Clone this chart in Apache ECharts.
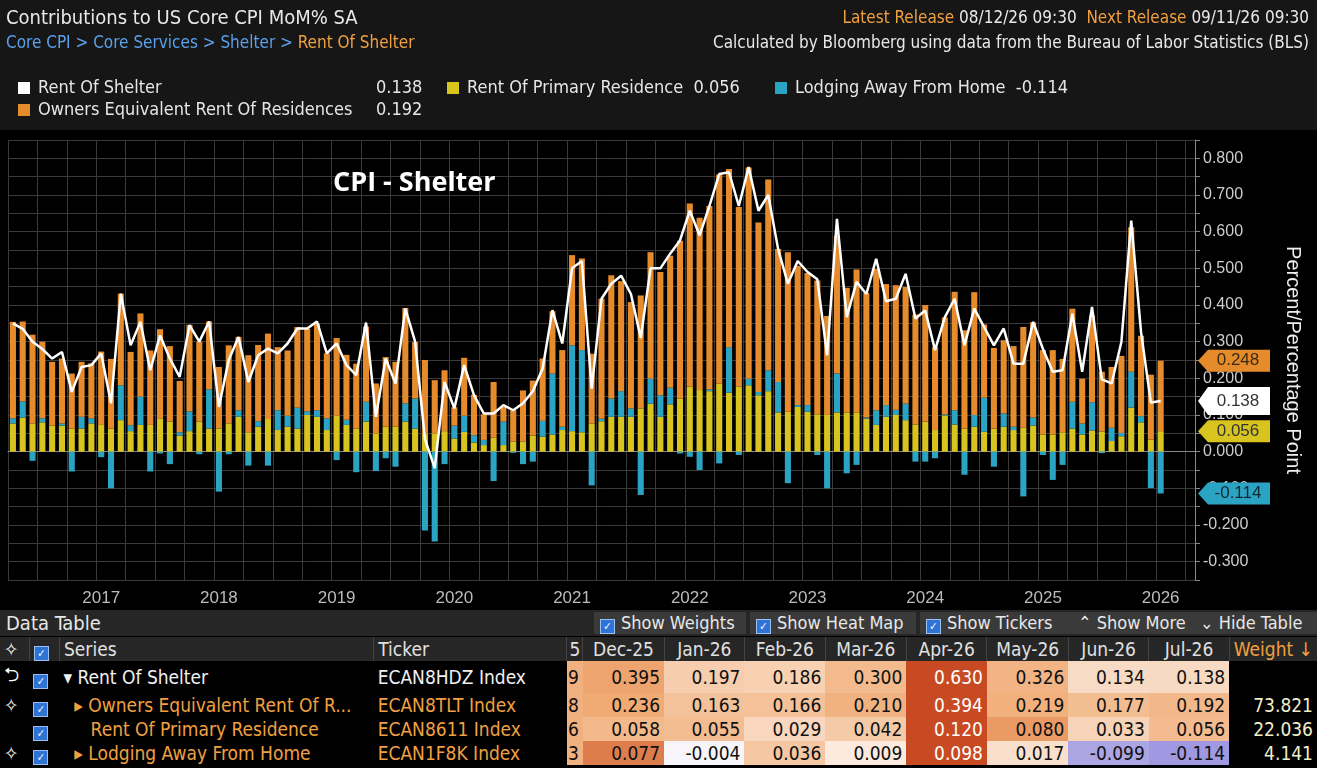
<!DOCTYPE html>
<html>
<head>
<meta charset="utf-8">
<script src="https://cdn.jsdelivr.net/npm/echarts@6/dist/echarts.min.js"></script>
<style>
  body { margin: 0; background: #000; width: 1317px; height: 768px; overflow: hidden;
    font-family: 'Liberation Sans Narrow', 'DejaVu Sans Condensed', 'Roboto', sans-serif; color: #ddd; }
  .abs { position: absolute; white-space: nowrap; }
  #top { position: absolute; left: 0; top: 0; width: 1317px; height: 130px; background: #161616; }
  #main { position: absolute; left: 0; top: 0; width: 1317px; height: 610px; }
  .sq { display: inline-block; width: 12px; height: 12px; margin-right: 8px; vertical-align: -1px; }
  .lg { font-size: 18px; color: #e6e6e6; }
  #tbl { position: absolute; left: 0; top: 610px; width: 1317px; height: 158px; background: #000; }
  .btn { position: absolute; top: 2px; height: 22px; background: #3a3a3a; color: #e8e8e8; font-size: 18px; line-height: 22px; padding-left: 6px; }
  .cb { display: inline-block; width: 13px; height: 13px; background: #2f73d6; border: 1px solid #9cc0f0; margin-right: 6px; vertical-align: -1px;
    color: #fff; font-size: 11px; line-height: 13px; text-align: center; }
  table { border-collapse: collapse; position: absolute; top: 27px; left: 0; }
  td { height: 24px; padding: 0 4px; font-size: 19px; white-space: nowrap; overflow: hidden; }
  tr.hd td { background: #262626; color: #e0e0e0; border-right: 1px solid #444; }
  td.num { text-align: right; color: #111; }
</style>
</head>
<body>
<div id="top"></div>
<div id="main"></div>
<div class="abs" style="left:6px;top:5px;font-size:20px;color:#e8e8e8">Contributions to US Core CPI MoM% SA</div>
<div class="abs" style="right:8px;top:7px;font-size:17px;color:#f0a040">Latest Release <span style="color:#e8e8e8">08/12/26 09:30</span>&nbsp; Next Release <span style="color:#e8e8e8">09/11/26 09:30</span></div>
<div class="abs" style="left:6px;top:32px;font-size:17px;color:#5aa0ea">Core CPI &gt; Core Services &gt; Shelter &gt; <span style="color:#f0a040">Rent Of Shelter</span></div>
<div class="abs" style="right:8px;top:32px;font-size:17px;color:#e8e8e8">Calculated by Bloomberg using data from the Bureau of Labor Statistics (BLS)</div>
<div class="abs lg" style="left:18px;top:76px"><span class="sq" style="background:#fff"></span>Rent Of Shelter</div>
<div class="abs lg" style="left:376px;top:76px">0.138</div>
<div class="abs lg" style="left:447px;top:76px"><span class="sq" style="background:#d8c41e"></span>Rent Of Primary Residence&nbsp; 0.056</div>
<div class="abs lg" style="left:775px;top:76px"><span class="sq" style="background:#2ba4c4"></span>Lodging Away From Home&nbsp; -0.114</div>
<div class="abs lg" style="left:18px;top:98px"><span class="sq" style="background:#e58b2c"></span>Owners Equivalent Rent Of Residences</div>
<div class="abs lg" style="left:376px;top:98px">0.192</div>
<div class="abs" style="left:333px;top:162px;font-family:'Open Sans',sans-serif;font-weight:bold;font-size:27px;color:#fff">CPI - Shelter</div>
<div id="tbl">
  <div style="position:absolute;left:0;top:0;width:1317px;height:26px;background:#262626"></div>
  <div class="abs" style="left:6px;top:1px;font-size:20px;color:#e8e8e8">Data Table</div>
  <div class="btn" style="left:594px;width:146px"><span class="cb">✓</span>Show Weights</div>
  <div class="btn" style="left:750px;width:160px"><span class="cb">✓</span>Show Heat Map</div>
  <div class="btn" style="left:920px;width:146px"><span class="cb">✓</span>Show Tickers</div>
  <div class="btn" style="left:1072px;width:116px">⌃ Show More</div>
  <div class="btn" style="left:1194px;width:117px">⌄ Hide Table</div>
  <table id="t"></table>
</div>
<script>
// monthly, Oct-2016 .. Jul-2026
const rentPrimary = [0.077,0.093,0.077,0.080,0.071,0.071,0.063,0.063,0.077,0.073,0.063,0.086,0.056,0.073,0.073,0.091,0.082,0.044,0.056,0.082,
  0.063,0.063,0.077,0.095,0.053,0.068,0.089,0.059,0.068,0.063,0.100,0.095,0.059,0.098,0.073,0.063,0.082,0.050,0.068,0.068,
  0.082,0.063,0.050,0.050,0.056,0.036,0.054,0.025,0.018,0.038,0.018,0.027,0.027,0.044,0.041,0.047,0.059,0.056,0.053,0.077,
  0.083,0.095,0.095,0.095,0.118,0.131,0.095,0.129,0.145,0.177,0.168,0.165,0.186,0.161,0.177,0.181,0.154,0.165,0.107,0.109,
  0.122,0.109,0.102,0.100,0.107,0.107,0.107,0.090,0.073,0.095,0.100,0.086,0.074,0.082,0.059,0.098,0.074,0.063,0.068,0.054,
  0.063,0.068,0.059,0.065,0.071,0.047,0.047,0.053,0.063,0.047,0.058,0.055,0.029,0.042,0.120,0.080,0.033,0.056];
const lodging = [0.014,0.044,-0.025,0.011,0.000,0.006,-0.054,0.032,0.014,-0.015,-0.100,0.095,0.016,0.077,-0.054,-0.005,-0.034,0.009,0.054,-0.007,
  0.107,-0.109,-0.007,0.018,-0.038,0.015,-0.038,0.054,0.030,0.057,0.010,0.018,0.032,-0.023,0.014,-0.056,0.054,-0.053,-0.018,-0.041,
  0.050,0.082,-0.215,-0.245,-0.034,0.035,0.044,0.020,0.014,-0.080,0.064,-0.003,-0.034,-0.027,0.043,0.166,0.009,0.234,0.224,-0.092,
  0.007,0.050,0.070,0.023,-0.118,0.068,0.059,0.045,-0.005,-0.014,-0.050,0.005,-0.032,0.124,-0.009,0.018,0.009,0.057,0.083,-0.086,
  0.005,0.018,-0.009,-0.100,0.106,-0.059,-0.036,0.003,0.040,0.032,0.014,0.045,-0.027,-0.027,-0.018,0.003,0.039,-0.063,0.032,0.093,
  -0.041,0.036,0.009,-0.122,0.022,-0.009,-0.077,-0.036,0.073,0.030,0.077,-0.004,0.036,0.009,0.098,0.017,-0.099,-0.114];
const ownersRent = [0.263,0.218,0.242,0.209,0.174,0.177,0.150,0.150,0.150,0.200,0.190,0.250,0.200,0.227,0.203,0.243,0.206,0.140,0.236,0.218,
  0.185,0.168,0.213,0.200,0.210,0.208,0.233,0.172,0.178,0.220,0.225,0.236,0.177,0.212,0.177,0.177,0.205,0.136,0.190,0.177,
  0.260,0.154,0.200,0.145,0.166,0.050,0.158,0.110,0.070,0.152,0.040,0.086,0.140,0.150,0.170,0.170,0.209,0.246,0.250,0.190,
  0.327,0.336,0.300,0.290,0.308,0.345,0.336,0.360,0.430,0.500,0.470,0.500,0.570,0.486,0.490,0.576,0.462,0.520,0.363,0.435,
  0.380,0.360,0.365,0.270,0.376,0.340,0.390,0.340,0.385,0.330,0.340,0.318,0.300,0.318,0.226,0.265,0.323,0.268,0.335,0.200,
  0.220,0.200,0.220,0.275,0.260,0.230,0.230,0.200,0.254,0.122,0.236,0.163,0.166,0.210,0.394,0.219,0.177,0.192];
const rentShelter = [0.350,0.335,0.300,0.280,0.254,0.272,0.163,0.231,0.236,0.268,0.132,0.431,0.290,0.354,0.222,0.317,0.254,0.204,0.345,0.300,
  0.355,0.122,0.250,0.313,0.190,0.263,0.281,0.268,0.295,0.336,0.336,0.355,0.268,0.295,0.236,0.209,0.352,0.095,0.254,0.186,
  0.390,0.300,0.035,-0.045,0.190,0.118,0.236,0.154,0.104,0.104,0.127,0.113,0.132,0.165,0.227,0.386,0.295,0.500,0.520,0.172,
  0.417,0.458,0.480,0.430,0.310,0.500,0.500,0.540,0.576,0.657,0.590,0.670,0.757,0.762,0.670,0.776,0.657,0.700,0.553,0.458,
  0.520,0.490,0.470,0.263,0.635,0.367,0.463,0.430,0.526,0.410,0.417,0.485,0.363,0.385,0.277,0.367,0.417,0.290,0.390,0.340,
  0.290,0.336,0.240,0.240,0.354,0.280,0.218,0.222,0.376,0.218,0.395,0.197,0.186,0.300,0.630,0.326,0.134,0.138];
const monthNames = ['Jan','Feb','Mar','Apr','May','Jun','Jul','Aug','Sep','Oct','Nov','Dec'];
const categories = [];
// three empty months after the last release leave the gap before the axis
for (let i = 0; i < rentShelter.length + 3; i++) {
  const m = (9 + i) % 12, y = 2016 + Math.floor((9 + i) / 12);
  categories.push(monthNames[m] + '-' + String(y).slice(2));
}
const tableMonths = ['Dec-25','Jan-26','Feb-26','Mar-26','Apr-26','May-26','Jun-26','Jul-26'];
const weights = ['', '73.821', '22.036', '4.141'];
const lastCol = ['9', '8', '6', '3'];

const chart = echarts.init(document.getElementById('main'));
const C = { yel: '#d8c41e', org: '#e58b2c', teal: '#2ba4c4' };
const option = {
  backgroundColor: 'transparent',
  animation: false,
  grid: { left: 8, right: 122, top: 140, bottom: 30, show: true, backgroundColor: '#000', borderWidth: 0 },
  xAxis: {
    type: 'category', data: categories,
    axisLine: { lineStyle: { color: '#888' } },
    axisTick: { interval: (i) => i % 3 === 0, length: 5, lineStyle: { color: '#888' } },
    splitLine: { show: true, interval: (i) => i % 3 === 0, lineStyle: { color: '#3a3a3a' } },
    axisLabel: { interval: (i, v) => v.startsWith('Jul'), formatter: (v) => '20' + v.slice(4),
      color: '#bbb', fontSize: 17, margin: 10 }
  },
  yAxis: {
    type: 'value', position: 'right', min: -0.35, max: 0.85, interval: 0.05,
    name: 'Percent/Percentage Point', nameLocation: 'middle', nameRotate: -90, nameGap: 88,
    nameTextStyle: { color: '#eee', fontSize: 20 },
    axisLine: { show: true, lineStyle: { color: '#888' } },
    axisTick: { show: true, length: 5, lineStyle: { color: '#888' } },
    splitLine: { lineStyle: { color: '#3a3a3a' } },
    axisLabel: { color: '#ccc', fontSize: 16, margin: 8,
      formatter: (v) => Math.abs(Math.round(v * 100) % 10) === 0 ? v.toFixed(3) : '' }
  },
  series: [
    { name: 'Rent Of Primary Residence', type: 'bar', stack: 's', data: rentPrimary, barWidth: '62%', itemStyle: { color: C.yel } },
    { name: 'Lodging Away From Home', type: 'bar', stack: 's', data: lodging, itemStyle: { color: C.teal } },
    { name: 'Owners Equivalent Rent Of Residences', type: 'bar', stack: 's', data: ownersRent, itemStyle: { color: C.org } },
    { name: 'Rent Of Shelter', type: 'line', data: rentShelter, symbol: 'none', z: 10,
      lineStyle: { color: '#fff', width: 2.5 } }
  ]
};
chart.setOption(option);

// value tags at the right axis, drawn over the axis labels
const n = rentShelter.length - 1;
const tags = [
  { v: ownersRent[n] + rentPrimary[n], bg: C.org, fg: '#3a2a10' },
  { v: rentShelter[n], bg: '#fff', fg: '#333' },
  { v: rentPrimary[n], bg: C.yel, fg: '#333' },
  { v: lodging[n], bg: C.teal, fg: '#0d2a33' }
];
const gfx = tags.map((t, i) => {
  const y = chart.convertToPixel({ yAxisIndex: 0 }, t.v);
  const h = i === 1 ? 28 : 22;
  return {
    type: 'group', x: 1198, y: y, z: 200, children: [
      { type: 'polygon', z: 200, shape: { points: [[0, 0], [10, -h / 2], [72, -h / 2], [72, h / 2], [10, h / 2]] }, style: { fill: t.bg } },
      { type: 'text', z: 201, x: 40, y: 0, style: { text: t.v.toFixed(3), fill: t.fg, font: '17px "Liberation Sans Narrow", sans-serif', align: 'center', verticalAlign: 'middle' } }
    ]
  };
});
chart.setOption({ graphic: gfx });

// data table
function mix(a, b, t) { return a.map((c, k) => Math.round(c + (b[k] - c) * t)); }
function heat(v, rowMax, rowMin) {
  if (v >= 0) {
    const t = Math.min(1, v / rowMax);
    const c = t < 0.6 ? mix([253, 246, 240], [240, 170, 115], t / 0.6) : mix([240, 170, 115], [200, 74, 34], (t - 0.6) / 0.4);
    return 'rgb(' + c.join(',') + ')';
  }
  const t = Math.min(1, v / rowMin);
  return 'rgb(' + mix([250, 248, 250], [160, 152, 225], t).join(',') + ')';
}
const rows = [
  { icon: '⮌', name: '▾ Rent Of Shelter', tick: 'ECAN8HDZ Index', vals: rentShelter.slice(-8), col: '#f0f0f0' },
  { icon: '✧', name: '&nbsp;&nbsp;▸ Owners Equivalent Rent Of R...', tick: 'ECAN8TLT Index', vals: ownersRent.slice(-8), col: '#f0a040' },
  { icon: '', name: '&nbsp;&nbsp;&nbsp;&nbsp;&nbsp;Rent Of Primary Residence', tick: 'ECAN8611 Index', vals: rentPrimary.slice(-8), col: '#f0a040' },
  { icon: '✧', name: '&nbsp;&nbsp;▸ Lodging Away From Home', tick: 'ECAN1F8K Index', vals: lodging.slice(-8), col: '#f0a040' }
];
let html = '<tr class="hd"><td style="width:22px;color:#fff">✧</td><td style="width:18px"><span class="cb">✓</span></td>' +
  '<td style="width:308px">Series</td><td style="width:190px">Ticker</td><td style="width:5px;padding:0 2px">5</td>';
tableMonths.forEach(m => { html += '<td style="width:74px;text-align:center">' + m + '</td>'; });
html += '<td style="width:70px;color:#f0a040;border-right:none">Weight ↓</td></tr>';
rows.forEach((r, ri) => {
  const mx = Math.max(...r.vals), mn = Math.min(...r.vals);
  html += '<tr><td style="color:#fff">' + r.icon + '</td><td><span class="cb">✓</span></td>' +
    '<td style="color:' + r.col + '">' + r.name + '</td><td style="color:' + r.col + '">' + r.tick + '</td>' +
    '<td style="background:#f0b080;color:#111;padding:0 1px">' + lastCol[ri] + '</td>';
  r.vals.forEach(v => {
    const t = v >= 0 ? v / mx : v / mn;
    html += '<td class="num" style="background:' + heat(v, mx, mn) + ';color:' + (t > 0.9 && v > 0 ? '#fff' : '#111') + '">' + v.toFixed(3) + '</td>';
  });
  html += '<td class="num" style="color:#f2eec8">' + weights[ri] + '</td></tr>';
});
document.getElementById('t').innerHTML = html;
</script>
</body>
</html>
